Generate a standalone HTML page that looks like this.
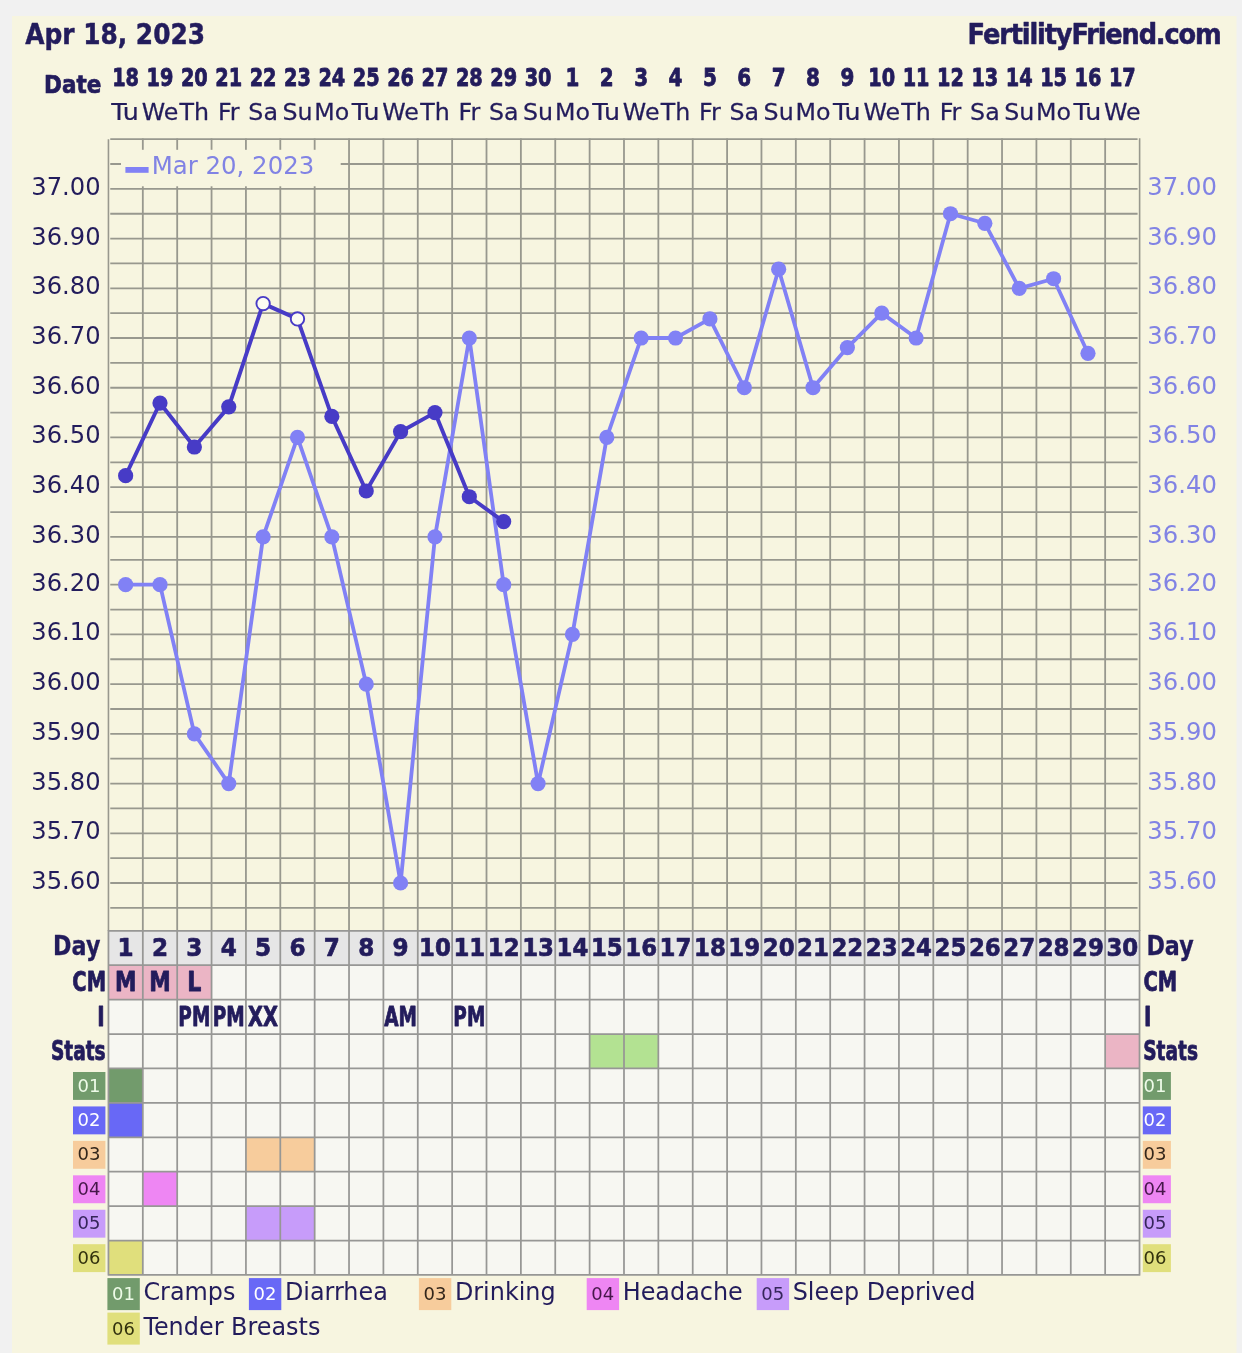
<!DOCTYPE html>
<html lang="en"><head><meta charset="utf-8"><title>FertilityFriend.com chart - Apr 18, 2023</title>
<style>
html,body{margin:0;padding:0;background:#f1f1f1;}
body{width:1242px;height:1353px;overflow:hidden;}
svg{display:block;}
text{font-family:"DejaVu Sans","Liberation Sans",sans-serif;}
.r{font-weight:400;}
.b{font-weight:700;}
</style></head>
<body>
<svg width="1242" height="1353" viewBox="0 0 1242 1353">
<defs><filter id="soft" x="-20" y="-20" width="1282" height="1393" filterUnits="userSpaceOnUse"><feGaussianBlur stdDeviation="0.38"/></filter></defs>
<rect x="0" y="0" width="1242" height="1353" fill="#f1f1f1"/>
<g filter="url(#soft)">
<rect x="-10" y="-10" width="1262" height="1373" fill="#f1f1f1"/>
<rect x="12" y="16" width="1224.5" height="1353" fill="#f7f5e0"/>
<path d="M110.25 139.15H1137.6M110.25 164.01H1137.6M110.25 188.87H1137.6M110.25 213.73H1137.6M110.25 238.58H1137.6M110.25 263.44H1137.6M110.25 288.30H1137.6M110.25 313.16H1137.6M110.25 338.02H1137.6M110.25 362.88H1137.6M110.25 387.74H1137.6M110.25 412.59H1137.6M110.25 437.45H1137.6M110.25 462.31H1137.6M110.25 487.17H1137.6M110.25 512.03H1137.6M110.25 536.89H1137.6M110.25 559.83H1137.6M110.25 584.69H1137.6M110.25 609.55H1137.6M110.25 634.41H1137.6M110.25 659.27H1137.6M110.25 684.13H1137.6M110.25 708.99H1137.6M110.25 733.84H1137.6M110.25 758.70H1137.6M110.25 783.56H1137.6M110.25 808.42H1137.6M110.25 833.28H1137.6M110.25 858.14H1137.6M110.25 883.00H1137.6M110.25 907.85H1137.6" stroke="#98988e" stroke-width="1.8" fill="none"/>
<path d="M142.82 138.55V930.90M177.19 138.55V930.90M211.56 138.55V930.90M245.93 138.55V930.90M280.30 138.55V930.90M314.66 138.55V930.90M349.03 138.55V930.90M383.40 138.55V930.90M417.77 138.55V930.90M452.14 138.55V930.90M486.51 138.55V930.90M520.88 138.55V930.90M555.25 138.55V930.90M589.62 138.55V930.90M623.99 138.55V930.90M658.35 138.55V930.90M692.72 138.55V930.90M727.09 138.55V930.90M761.46 138.55V930.90M795.83 138.55V930.90M830.20 138.55V930.90M864.57 138.55V930.90M898.94 138.55V930.90M933.31 138.55V930.90M967.68 138.55V930.90M1002.04 138.55V930.90M1036.41 138.55V930.90M1070.78 138.55V930.90M1105.15 138.55V930.90" stroke="#98988e" stroke-width="1.8" fill="none"/>
<path d="M108.45 139.15V930.9" stroke="#98988e" stroke-width="1.6" fill="none"/>
<path d="M1139.62 138.15V930.9" stroke="#98988e" stroke-width="1.6" fill="none"/>
<rect x="121" y="149.8" width="219.7" height="36.5" fill="#f7f5e0"/>
<rect x="125.4" y="167" width="23.2" height="5.8" fill="#8181f5"/>
<rect x="108.45" y="930.9" width="1031.07" height="34.30" fill="#e6e6e6"/>
<rect x="108.45" y="965.2" width="1031.07" height="309.78" fill="#f7f7f2"/>
<rect x="108.45" y="965.20" width="34.37" height="34.42" fill="#ebb5c5"/>
<rect x="142.82" y="965.20" width="34.37" height="34.42" fill="#ebb5c5"/>
<rect x="177.19" y="965.20" width="34.37" height="34.42" fill="#ebb5c5"/>
<rect x="589.62" y="1034.04" width="34.37" height="34.42" fill="#b3e292"/>
<rect x="623.99" y="1034.04" width="34.37" height="34.42" fill="#b3e292"/>
<rect x="1105.15" y="1034.04" width="34.37" height="34.42" fill="#ebb5c5"/>
<rect x="108.45" y="1068.46" width="34.37" height="34.42" fill="#729b6c"/>
<rect x="108.45" y="1102.88" width="34.37" height="34.42" fill="#6767f6"/>
<rect x="245.93" y="1137.30" width="34.37" height="34.42" fill="#f7cc9c"/>
<rect x="280.30" y="1137.30" width="34.37" height="34.42" fill="#f7cc9c"/>
<rect x="142.82" y="1171.72" width="34.37" height="34.42" fill="#ee86f3"/>
<rect x="245.93" y="1206.14" width="34.37" height="34.42" fill="#c79cfa"/>
<rect x="280.30" y="1206.14" width="34.37" height="34.42" fill="#c79cfa"/>
<rect x="108.45" y="1240.56" width="34.37" height="34.42" fill="#e0df7c"/>
<path d="M107.65 930.90H1140.32M107.65 965.20H1140.32M107.65 999.62H1140.32M107.65 1034.04H1140.32M107.65 1068.46H1140.32M107.65 1102.88H1140.32M107.65 1137.30H1140.32M107.65 1171.72H1140.32M107.65 1206.14H1140.32M107.65 1240.56H1140.32M107.65 1274.98H1140.32M108.45 930.90V1274.98M142.82 930.90V1274.98M177.19 930.90V1274.98M211.56 930.90V1274.98M245.93 930.90V1274.98M280.30 930.90V1274.98M314.66 930.90V1274.98M349.03 930.90V1274.98M383.40 930.90V1274.98M417.77 930.90V1274.98M452.14 930.90V1274.98M486.51 930.90V1274.98M520.88 930.90V1274.98M555.25 930.90V1274.98M589.62 930.90V1274.98M623.99 930.90V1274.98M658.35 930.90V1274.98M692.72 930.90V1274.98M727.09 930.90V1274.98M761.46 930.90V1274.98M795.83 930.90V1274.98M830.20 930.90V1274.98M864.57 930.90V1274.98M898.94 930.90V1274.98M933.31 930.90V1274.98M967.68 930.90V1274.98M1002.04 930.90V1274.98M1036.41 930.90V1274.98M1070.78 930.90V1274.98M1105.15 930.90V1274.98M1139.52 930.90V1274.98" stroke="#979795" stroke-width="1.75" fill="none"/>
<polyline points="125.63,584.69 160.00,584.69 194.37,733.84 228.74,783.56 263.11,536.89 297.48,437.45 331.85,536.89 366.22,684.13 400.59,883.00 434.96,536.89 469.32,338.02 503.69,584.69 538.06,783.56 572.43,634.41 606.80,437.45 641.17,338.02 675.54,338.02 709.91,318.90 744.28,387.74 778.65,269.18 813.01,387.74 847.38,347.58 881.75,313.16 916.12,338.02 950.49,213.73 984.86,223.29 1019.23,288.30 1053.60,278.74 1087.97,353.32" fill="none" stroke="#8181f5" stroke-width="3.8" stroke-linejoin="round"/>
<circle cx="125.63" cy="584.69" r="7.6" fill="#8181f5"/>
<circle cx="160.00" cy="584.69" r="7.6" fill="#8181f5"/>
<circle cx="194.37" cy="733.84" r="7.6" fill="#8181f5"/>
<circle cx="228.74" cy="783.56" r="7.6" fill="#8181f5"/>
<circle cx="263.11" cy="536.89" r="7.6" fill="#8181f5"/>
<circle cx="297.48" cy="437.45" r="7.6" fill="#8181f5"/>
<circle cx="331.85" cy="536.89" r="7.6" fill="#8181f5"/>
<circle cx="366.22" cy="684.13" r="7.6" fill="#8181f5"/>
<circle cx="400.59" cy="883.00" r="7.6" fill="#8181f5"/>
<circle cx="434.96" cy="536.89" r="7.6" fill="#8181f5"/>
<circle cx="469.32" cy="338.02" r="7.6" fill="#8181f5"/>
<circle cx="503.69" cy="584.69" r="7.6" fill="#8181f5"/>
<circle cx="538.06" cy="783.56" r="7.6" fill="#8181f5"/>
<circle cx="572.43" cy="634.41" r="7.6" fill="#8181f5"/>
<circle cx="606.80" cy="437.45" r="7.6" fill="#8181f5"/>
<circle cx="641.17" cy="338.02" r="7.6" fill="#8181f5"/>
<circle cx="675.54" cy="338.02" r="7.6" fill="#8181f5"/>
<circle cx="709.91" cy="318.90" r="7.6" fill="#8181f5"/>
<circle cx="744.28" cy="387.74" r="7.6" fill="#8181f5"/>
<circle cx="778.65" cy="269.18" r="7.6" fill="#8181f5"/>
<circle cx="813.01" cy="387.74" r="7.6" fill="#8181f5"/>
<circle cx="847.38" cy="347.58" r="7.6" fill="#8181f5"/>
<circle cx="881.75" cy="313.16" r="7.6" fill="#8181f5"/>
<circle cx="916.12" cy="338.02" r="7.6" fill="#8181f5"/>
<circle cx="950.49" cy="213.73" r="7.6" fill="#8181f5"/>
<circle cx="984.86" cy="223.29" r="7.6" fill="#8181f5"/>
<circle cx="1019.23" cy="288.30" r="7.6" fill="#8181f5"/>
<circle cx="1053.60" cy="278.74" r="7.6" fill="#8181f5"/>
<circle cx="1087.97" cy="353.32" r="7.6" fill="#8181f5"/>
<polyline points="125.63,475.70 160.00,403.03 194.37,447.01 228.74,406.86 263.11,303.60 297.48,318.90 331.85,416.42 366.22,490.99 400.59,431.72 434.96,412.59 469.32,496.73 503.69,521.59" fill="none" stroke="#473ac6" stroke-width="3.9" stroke-linejoin="round"/>
<circle cx="125.63" cy="475.70" r="7.6" fill="#473ac6"/>
<circle cx="160.00" cy="403.03" r="7.6" fill="#473ac6"/>
<circle cx="194.37" cy="447.01" r="7.6" fill="#473ac6"/>
<circle cx="228.74" cy="406.86" r="7.6" fill="#473ac6"/>
<circle cx="263.11" cy="303.60" r="6.7" fill="#fbfbf2" stroke="#473ac6" stroke-width="1.9"/>
<circle cx="297.48" cy="318.90" r="6.7" fill="#fbfbf2" stroke="#473ac6" stroke-width="1.9"/>
<circle cx="331.85" cy="416.42" r="7.6" fill="#473ac6"/>
<circle cx="366.22" cy="490.99" r="7.6" fill="#473ac6"/>
<circle cx="400.59" cy="431.72" r="7.6" fill="#473ac6"/>
<circle cx="434.96" cy="412.59" r="7.6" fill="#473ac6"/>
<circle cx="469.32" cy="496.73" r="7.6" fill="#473ac6"/>
<circle cx="503.69" cy="521.59" r="7.6" fill="#473ac6"/>
<text x="151.8" y="173.6" font-size="24.4" class="r" fill="#8183e4">Mar 20, 2023</text>
<text transform="translate(25.2 44.3) scale(0.858 1)" font-size="29" class="b" fill="#241c5c" stroke="#241c5c" stroke-width="0.5" stroke-linejoin="round">Apr 18, 2023</text>
<text transform="translate(1220.6 44.4) scale(0.885 1)" font-size="29" class="b" fill="#241c5c" text-anchor="end" letter-spacing="-1.3" stroke="#241c5c" stroke-width="0.6" stroke-linejoin="round">FertilityFriend.com</text>
<text transform="translate(101.3 93.1) scale(0.885 1)" font-size="24.3" class="b" fill="#241c5c" text-anchor="end" stroke="#241c5c" stroke-width="0.7" stroke-linejoin="round">Date</text>
<text transform="translate(125.63 86.0) scale(0.775 1)" font-size="24.9" class="b" fill="#241c5c" text-anchor="middle" stroke="#241c5c" stroke-width="0.9" stroke-linejoin="round">18</text>
<text transform="translate(125.03 119.6) scale(1.12 1)" font-size="22.6" class="r" fill="#241c5c" text-anchor="middle" stroke="#241c5c" stroke-width="0.25" stroke-linejoin="round">Tu</text>
<text transform="translate(160.00 86.0) scale(0.775 1)" font-size="24.9" class="b" fill="#241c5c" text-anchor="middle" stroke="#241c5c" stroke-width="0.9" stroke-linejoin="round">19</text>
<text transform="translate(160.00 119.6) scale(1.05 1)" font-size="22.6" class="r" fill="#241c5c" text-anchor="middle" stroke="#241c5c" stroke-width="0.25" stroke-linejoin="round">We</text>
<text transform="translate(194.37 86.0) scale(0.775 1)" font-size="24.9" class="b" fill="#241c5c" text-anchor="middle" stroke="#241c5c" stroke-width="0.9" stroke-linejoin="round">20</text>
<text transform="translate(194.37 119.6) scale(1.05 1)" font-size="22.6" class="r" fill="#241c5c" text-anchor="middle" stroke="#241c5c" stroke-width="0.25" stroke-linejoin="round">Th</text>
<text transform="translate(228.74 86.0) scale(0.775 1)" font-size="24.9" class="b" fill="#241c5c" text-anchor="middle" stroke="#241c5c" stroke-width="0.9" stroke-linejoin="round">21</text>
<text transform="translate(228.74 119.6) scale(1.05 1)" font-size="22.6" class="r" fill="#241c5c" text-anchor="middle" stroke="#241c5c" stroke-width="0.25" stroke-linejoin="round">Fr</text>
<text transform="translate(263.11 86.0) scale(0.775 1)" font-size="24.9" class="b" fill="#241c5c" text-anchor="middle" stroke="#241c5c" stroke-width="0.9" stroke-linejoin="round">22</text>
<text transform="translate(263.11 119.6) scale(1.05 1)" font-size="22.6" class="r" fill="#241c5c" text-anchor="middle" stroke="#241c5c" stroke-width="0.25" stroke-linejoin="round">Sa</text>
<text transform="translate(297.48 86.0) scale(0.775 1)" font-size="24.9" class="b" fill="#241c5c" text-anchor="middle" stroke="#241c5c" stroke-width="0.9" stroke-linejoin="round">23</text>
<text transform="translate(297.48 119.6) scale(1.05 1)" font-size="22.6" class="r" fill="#241c5c" text-anchor="middle" stroke="#241c5c" stroke-width="0.25" stroke-linejoin="round">Su</text>
<text transform="translate(331.85 86.0) scale(0.775 1)" font-size="24.9" class="b" fill="#241c5c" text-anchor="middle" stroke="#241c5c" stroke-width="0.9" stroke-linejoin="round">24</text>
<text transform="translate(331.85 119.6) scale(1.05 1)" font-size="22.6" class="r" fill="#241c5c" text-anchor="middle" stroke="#241c5c" stroke-width="0.25" stroke-linejoin="round">Mo</text>
<text transform="translate(366.22 86.0) scale(0.775 1)" font-size="24.9" class="b" fill="#241c5c" text-anchor="middle" stroke="#241c5c" stroke-width="0.9" stroke-linejoin="round">25</text>
<text transform="translate(365.62 119.6) scale(1.12 1)" font-size="22.6" class="r" fill="#241c5c" text-anchor="middle" stroke="#241c5c" stroke-width="0.25" stroke-linejoin="round">Tu</text>
<text transform="translate(400.59 86.0) scale(0.775 1)" font-size="24.9" class="b" fill="#241c5c" text-anchor="middle" stroke="#241c5c" stroke-width="0.9" stroke-linejoin="round">26</text>
<text transform="translate(400.59 119.6) scale(1.05 1)" font-size="22.6" class="r" fill="#241c5c" text-anchor="middle" stroke="#241c5c" stroke-width="0.25" stroke-linejoin="round">We</text>
<text transform="translate(434.96 86.0) scale(0.775 1)" font-size="24.9" class="b" fill="#241c5c" text-anchor="middle" stroke="#241c5c" stroke-width="0.9" stroke-linejoin="round">27</text>
<text transform="translate(434.96 119.6) scale(1.05 1)" font-size="22.6" class="r" fill="#241c5c" text-anchor="middle" stroke="#241c5c" stroke-width="0.25" stroke-linejoin="round">Th</text>
<text transform="translate(469.32 86.0) scale(0.775 1)" font-size="24.9" class="b" fill="#241c5c" text-anchor="middle" stroke="#241c5c" stroke-width="0.9" stroke-linejoin="round">28</text>
<text transform="translate(469.32 119.6) scale(1.05 1)" font-size="22.6" class="r" fill="#241c5c" text-anchor="middle" stroke="#241c5c" stroke-width="0.25" stroke-linejoin="round">Fr</text>
<text transform="translate(503.69 86.0) scale(0.775 1)" font-size="24.9" class="b" fill="#241c5c" text-anchor="middle" stroke="#241c5c" stroke-width="0.9" stroke-linejoin="round">29</text>
<text transform="translate(503.69 119.6) scale(1.05 1)" font-size="22.6" class="r" fill="#241c5c" text-anchor="middle" stroke="#241c5c" stroke-width="0.25" stroke-linejoin="round">Sa</text>
<text transform="translate(538.06 86.0) scale(0.775 1)" font-size="24.9" class="b" fill="#241c5c" text-anchor="middle" stroke="#241c5c" stroke-width="0.9" stroke-linejoin="round">30</text>
<text transform="translate(538.06 119.6) scale(1.05 1)" font-size="22.6" class="r" fill="#241c5c" text-anchor="middle" stroke="#241c5c" stroke-width="0.25" stroke-linejoin="round">Su</text>
<text transform="translate(572.43 86.0) scale(0.8 1)" font-size="24.9" class="b" fill="#241c5c" text-anchor="middle" stroke="#241c5c" stroke-width="0.9" stroke-linejoin="round">1</text>
<text transform="translate(572.43 119.6) scale(1.05 1)" font-size="22.6" class="r" fill="#241c5c" text-anchor="middle" stroke="#241c5c" stroke-width="0.25" stroke-linejoin="round">Mo</text>
<text transform="translate(606.80 86.0) scale(0.8 1)" font-size="24.9" class="b" fill="#241c5c" text-anchor="middle" stroke="#241c5c" stroke-width="0.9" stroke-linejoin="round">2</text>
<text transform="translate(606.20 119.6) scale(1.12 1)" font-size="22.6" class="r" fill="#241c5c" text-anchor="middle" stroke="#241c5c" stroke-width="0.25" stroke-linejoin="round">Tu</text>
<text transform="translate(641.17 86.0) scale(0.8 1)" font-size="24.9" class="b" fill="#241c5c" text-anchor="middle" stroke="#241c5c" stroke-width="0.9" stroke-linejoin="round">3</text>
<text transform="translate(641.17 119.6) scale(1.05 1)" font-size="22.6" class="r" fill="#241c5c" text-anchor="middle" stroke="#241c5c" stroke-width="0.25" stroke-linejoin="round">We</text>
<text transform="translate(675.54 86.0) scale(0.8 1)" font-size="24.9" class="b" fill="#241c5c" text-anchor="middle" stroke="#241c5c" stroke-width="0.9" stroke-linejoin="round">4</text>
<text transform="translate(675.54 119.6) scale(1.05 1)" font-size="22.6" class="r" fill="#241c5c" text-anchor="middle" stroke="#241c5c" stroke-width="0.25" stroke-linejoin="round">Th</text>
<text transform="translate(709.91 86.0) scale(0.8 1)" font-size="24.9" class="b" fill="#241c5c" text-anchor="middle" stroke="#241c5c" stroke-width="0.9" stroke-linejoin="round">5</text>
<text transform="translate(709.91 119.6) scale(1.05 1)" font-size="22.6" class="r" fill="#241c5c" text-anchor="middle" stroke="#241c5c" stroke-width="0.25" stroke-linejoin="round">Fr</text>
<text transform="translate(744.28 86.0) scale(0.8 1)" font-size="24.9" class="b" fill="#241c5c" text-anchor="middle" stroke="#241c5c" stroke-width="0.9" stroke-linejoin="round">6</text>
<text transform="translate(744.28 119.6) scale(1.05 1)" font-size="22.6" class="r" fill="#241c5c" text-anchor="middle" stroke="#241c5c" stroke-width="0.25" stroke-linejoin="round">Sa</text>
<text transform="translate(778.65 86.0) scale(0.8 1)" font-size="24.9" class="b" fill="#241c5c" text-anchor="middle" stroke="#241c5c" stroke-width="0.9" stroke-linejoin="round">7</text>
<text transform="translate(778.65 119.6) scale(1.05 1)" font-size="22.6" class="r" fill="#241c5c" text-anchor="middle" stroke="#241c5c" stroke-width="0.25" stroke-linejoin="round">Su</text>
<text transform="translate(813.01 86.0) scale(0.8 1)" font-size="24.9" class="b" fill="#241c5c" text-anchor="middle" stroke="#241c5c" stroke-width="0.9" stroke-linejoin="round">8</text>
<text transform="translate(813.01 119.6) scale(1.05 1)" font-size="22.6" class="r" fill="#241c5c" text-anchor="middle" stroke="#241c5c" stroke-width="0.25" stroke-linejoin="round">Mo</text>
<text transform="translate(847.38 86.0) scale(0.8 1)" font-size="24.9" class="b" fill="#241c5c" text-anchor="middle" stroke="#241c5c" stroke-width="0.9" stroke-linejoin="round">9</text>
<text transform="translate(846.78 119.6) scale(1.12 1)" font-size="22.6" class="r" fill="#241c5c" text-anchor="middle" stroke="#241c5c" stroke-width="0.25" stroke-linejoin="round">Tu</text>
<text transform="translate(881.75 86.0) scale(0.775 1)" font-size="24.9" class="b" fill="#241c5c" text-anchor="middle" stroke="#241c5c" stroke-width="0.9" stroke-linejoin="round">10</text>
<text transform="translate(881.75 119.6) scale(1.05 1)" font-size="22.6" class="r" fill="#241c5c" text-anchor="middle" stroke="#241c5c" stroke-width="0.25" stroke-linejoin="round">We</text>
<text transform="translate(916.12 86.0) scale(0.775 1)" font-size="24.9" class="b" fill="#241c5c" text-anchor="middle" stroke="#241c5c" stroke-width="0.9" stroke-linejoin="round">11</text>
<text transform="translate(916.12 119.6) scale(1.05 1)" font-size="22.6" class="r" fill="#241c5c" text-anchor="middle" stroke="#241c5c" stroke-width="0.25" stroke-linejoin="round">Th</text>
<text transform="translate(950.49 86.0) scale(0.775 1)" font-size="24.9" class="b" fill="#241c5c" text-anchor="middle" stroke="#241c5c" stroke-width="0.9" stroke-linejoin="round">12</text>
<text transform="translate(950.49 119.6) scale(1.05 1)" font-size="22.6" class="r" fill="#241c5c" text-anchor="middle" stroke="#241c5c" stroke-width="0.25" stroke-linejoin="round">Fr</text>
<text transform="translate(984.86 86.0) scale(0.775 1)" font-size="24.9" class="b" fill="#241c5c" text-anchor="middle" stroke="#241c5c" stroke-width="0.9" stroke-linejoin="round">13</text>
<text transform="translate(984.86 119.6) scale(1.05 1)" font-size="22.6" class="r" fill="#241c5c" text-anchor="middle" stroke="#241c5c" stroke-width="0.25" stroke-linejoin="round">Sa</text>
<text transform="translate(1019.23 86.0) scale(0.775 1)" font-size="24.9" class="b" fill="#241c5c" text-anchor="middle" stroke="#241c5c" stroke-width="0.9" stroke-linejoin="round">14</text>
<text transform="translate(1019.23 119.6) scale(1.05 1)" font-size="22.6" class="r" fill="#241c5c" text-anchor="middle" stroke="#241c5c" stroke-width="0.25" stroke-linejoin="round">Su</text>
<text transform="translate(1053.60 86.0) scale(0.775 1)" font-size="24.9" class="b" fill="#241c5c" text-anchor="middle" stroke="#241c5c" stroke-width="0.9" stroke-linejoin="round">15</text>
<text transform="translate(1053.60 119.6) scale(1.05 1)" font-size="22.6" class="r" fill="#241c5c" text-anchor="middle" stroke="#241c5c" stroke-width="0.25" stroke-linejoin="round">Mo</text>
<text transform="translate(1087.97 86.0) scale(0.775 1)" font-size="24.9" class="b" fill="#241c5c" text-anchor="middle" stroke="#241c5c" stroke-width="0.9" stroke-linejoin="round">16</text>
<text transform="translate(1087.37 119.6) scale(1.12 1)" font-size="22.6" class="r" fill="#241c5c" text-anchor="middle" stroke="#241c5c" stroke-width="0.25" stroke-linejoin="round">Tu</text>
<text transform="translate(1122.34 86.0) scale(0.775 1)" font-size="24.9" class="b" fill="#241c5c" text-anchor="middle" stroke="#241c5c" stroke-width="0.9" stroke-linejoin="round">17</text>
<text transform="translate(1122.34 119.6) scale(1.05 1)" font-size="22.6" class="r" fill="#241c5c" text-anchor="middle" stroke="#241c5c" stroke-width="0.25" stroke-linejoin="round">We</text>
<text x="100.6" y="194.87" font-size="24.2" class="r" fill="#241c5c" text-anchor="end">37.00</text>
<text x="1147.3" y="194.87" font-size="24.3" class="r" fill="#8183e4">37.00</text>
<text x="100.6" y="244.58" font-size="24.2" class="r" fill="#241c5c" text-anchor="end">36.90</text>
<text x="1147.3" y="244.58" font-size="24.3" class="r" fill="#8183e4">36.90</text>
<text x="100.6" y="294.30" font-size="24.2" class="r" fill="#241c5c" text-anchor="end">36.80</text>
<text x="1147.3" y="294.30" font-size="24.3" class="r" fill="#8183e4">36.80</text>
<text x="100.6" y="344.02" font-size="24.2" class="r" fill="#241c5c" text-anchor="end">36.70</text>
<text x="1147.3" y="344.02" font-size="24.3" class="r" fill="#8183e4">36.70</text>
<text x="100.6" y="393.74" font-size="24.2" class="r" fill="#241c5c" text-anchor="end">36.60</text>
<text x="1147.3" y="393.74" font-size="24.3" class="r" fill="#8183e4">36.60</text>
<text x="100.6" y="443.45" font-size="24.2" class="r" fill="#241c5c" text-anchor="end">36.50</text>
<text x="1147.3" y="443.45" font-size="24.3" class="r" fill="#8183e4">36.50</text>
<text x="100.6" y="493.17" font-size="24.2" class="r" fill="#241c5c" text-anchor="end">36.40</text>
<text x="1147.3" y="493.17" font-size="24.3" class="r" fill="#8183e4">36.40</text>
<text x="100.6" y="542.89" font-size="24.2" class="r" fill="#241c5c" text-anchor="end">36.30</text>
<text x="1147.3" y="542.89" font-size="24.3" class="r" fill="#8183e4">36.30</text>
<text x="100.6" y="590.69" font-size="24.2" class="r" fill="#241c5c" text-anchor="end">36.20</text>
<text x="1147.3" y="590.69" font-size="24.3" class="r" fill="#8183e4">36.20</text>
<text x="100.6" y="640.41" font-size="24.2" class="r" fill="#241c5c" text-anchor="end">36.10</text>
<text x="1147.3" y="640.41" font-size="24.3" class="r" fill="#8183e4">36.10</text>
<text x="100.6" y="690.13" font-size="24.2" class="r" fill="#241c5c" text-anchor="end">36.00</text>
<text x="1147.3" y="690.13" font-size="24.3" class="r" fill="#8183e4">36.00</text>
<text x="100.6" y="739.84" font-size="24.2" class="r" fill="#241c5c" text-anchor="end">35.90</text>
<text x="1147.3" y="739.84" font-size="24.3" class="r" fill="#8183e4">35.90</text>
<text x="100.6" y="789.56" font-size="24.2" class="r" fill="#241c5c" text-anchor="end">35.80</text>
<text x="1147.3" y="789.56" font-size="24.3" class="r" fill="#8183e4">35.80</text>
<text x="100.6" y="839.28" font-size="24.2" class="r" fill="#241c5c" text-anchor="end">35.70</text>
<text x="1147.3" y="839.28" font-size="24.3" class="r" fill="#8183e4">35.70</text>
<text x="100.6" y="889.00" font-size="24.2" class="r" fill="#241c5c" text-anchor="end">35.60</text>
<text x="1147.3" y="889.00" font-size="24.3" class="r" fill="#8183e4">35.60</text>
<text transform="translate(125.63 955.6) scale(0.94 1)" font-size="24.6" class="b" fill="#241c5c" text-anchor="middle" stroke="#241c5c" stroke-width="0.7" stroke-linejoin="round">1</text>
<text transform="translate(160.00 955.6) scale(0.94 1)" font-size="24.6" class="b" fill="#241c5c" text-anchor="middle" stroke="#241c5c" stroke-width="0.7" stroke-linejoin="round">2</text>
<text transform="translate(194.37 955.6) scale(0.94 1)" font-size="24.6" class="b" fill="#241c5c" text-anchor="middle" stroke="#241c5c" stroke-width="0.7" stroke-linejoin="round">3</text>
<text transform="translate(228.74 955.6) scale(0.94 1)" font-size="24.6" class="b" fill="#241c5c" text-anchor="middle" stroke="#241c5c" stroke-width="0.7" stroke-linejoin="round">4</text>
<text transform="translate(263.11 955.6) scale(0.94 1)" font-size="24.6" class="b" fill="#241c5c" text-anchor="middle" stroke="#241c5c" stroke-width="0.7" stroke-linejoin="round">5</text>
<text transform="translate(297.48 955.6) scale(0.94 1)" font-size="24.6" class="b" fill="#241c5c" text-anchor="middle" stroke="#241c5c" stroke-width="0.7" stroke-linejoin="round">6</text>
<text transform="translate(331.85 955.6) scale(0.94 1)" font-size="24.6" class="b" fill="#241c5c" text-anchor="middle" stroke="#241c5c" stroke-width="0.7" stroke-linejoin="round">7</text>
<text transform="translate(366.22 955.6) scale(0.94 1)" font-size="24.6" class="b" fill="#241c5c" text-anchor="middle" stroke="#241c5c" stroke-width="0.7" stroke-linejoin="round">8</text>
<text transform="translate(400.59 955.6) scale(0.94 1)" font-size="24.6" class="b" fill="#241c5c" text-anchor="middle" stroke="#241c5c" stroke-width="0.7" stroke-linejoin="round">9</text>
<text transform="translate(434.96 955.6) scale(0.93 1)" font-size="24.6" class="b" fill="#241c5c" text-anchor="middle" stroke="#241c5c" stroke-width="0.7" stroke-linejoin="round">10</text>
<text transform="translate(469.32 955.6) scale(0.93 1)" font-size="24.6" class="b" fill="#241c5c" text-anchor="middle" stroke="#241c5c" stroke-width="0.7" stroke-linejoin="round">11</text>
<text transform="translate(503.69 955.6) scale(0.93 1)" font-size="24.6" class="b" fill="#241c5c" text-anchor="middle" stroke="#241c5c" stroke-width="0.7" stroke-linejoin="round">12</text>
<text transform="translate(538.06 955.6) scale(0.93 1)" font-size="24.6" class="b" fill="#241c5c" text-anchor="middle" stroke="#241c5c" stroke-width="0.7" stroke-linejoin="round">13</text>
<text transform="translate(572.43 955.6) scale(0.93 1)" font-size="24.6" class="b" fill="#241c5c" text-anchor="middle" stroke="#241c5c" stroke-width="0.7" stroke-linejoin="round">14</text>
<text transform="translate(606.80 955.6) scale(0.93 1)" font-size="24.6" class="b" fill="#241c5c" text-anchor="middle" stroke="#241c5c" stroke-width="0.7" stroke-linejoin="round">15</text>
<text transform="translate(641.17 955.6) scale(0.93 1)" font-size="24.6" class="b" fill="#241c5c" text-anchor="middle" stroke="#241c5c" stroke-width="0.7" stroke-linejoin="round">16</text>
<text transform="translate(675.54 955.6) scale(0.93 1)" font-size="24.6" class="b" fill="#241c5c" text-anchor="middle" stroke="#241c5c" stroke-width="0.7" stroke-linejoin="round">17</text>
<text transform="translate(709.91 955.6) scale(0.93 1)" font-size="24.6" class="b" fill="#241c5c" text-anchor="middle" stroke="#241c5c" stroke-width="0.7" stroke-linejoin="round">18</text>
<text transform="translate(744.28 955.6) scale(0.93 1)" font-size="24.6" class="b" fill="#241c5c" text-anchor="middle" stroke="#241c5c" stroke-width="0.7" stroke-linejoin="round">19</text>
<text transform="translate(778.65 955.6) scale(0.93 1)" font-size="24.6" class="b" fill="#241c5c" text-anchor="middle" stroke="#241c5c" stroke-width="0.7" stroke-linejoin="round">20</text>
<text transform="translate(813.01 955.6) scale(0.93 1)" font-size="24.6" class="b" fill="#241c5c" text-anchor="middle" stroke="#241c5c" stroke-width="0.7" stroke-linejoin="round">21</text>
<text transform="translate(847.38 955.6) scale(0.93 1)" font-size="24.6" class="b" fill="#241c5c" text-anchor="middle" stroke="#241c5c" stroke-width="0.7" stroke-linejoin="round">22</text>
<text transform="translate(881.75 955.6) scale(0.93 1)" font-size="24.6" class="b" fill="#241c5c" text-anchor="middle" stroke="#241c5c" stroke-width="0.7" stroke-linejoin="round">23</text>
<text transform="translate(916.12 955.6) scale(0.93 1)" font-size="24.6" class="b" fill="#241c5c" text-anchor="middle" stroke="#241c5c" stroke-width="0.7" stroke-linejoin="round">24</text>
<text transform="translate(950.49 955.6) scale(0.93 1)" font-size="24.6" class="b" fill="#241c5c" text-anchor="middle" stroke="#241c5c" stroke-width="0.7" stroke-linejoin="round">25</text>
<text transform="translate(984.86 955.6) scale(0.93 1)" font-size="24.6" class="b" fill="#241c5c" text-anchor="middle" stroke="#241c5c" stroke-width="0.7" stroke-linejoin="round">26</text>
<text transform="translate(1019.23 955.6) scale(0.93 1)" font-size="24.6" class="b" fill="#241c5c" text-anchor="middle" stroke="#241c5c" stroke-width="0.7" stroke-linejoin="round">27</text>
<text transform="translate(1053.60 955.6) scale(0.93 1)" font-size="24.6" class="b" fill="#241c5c" text-anchor="middle" stroke="#241c5c" stroke-width="0.7" stroke-linejoin="round">28</text>
<text transform="translate(1087.97 955.6) scale(0.93 1)" font-size="24.6" class="b" fill="#241c5c" text-anchor="middle" stroke="#241c5c" stroke-width="0.7" stroke-linejoin="round">29</text>
<text transform="translate(1122.34 955.6) scale(0.93 1)" font-size="24.6" class="b" fill="#241c5c" text-anchor="middle" stroke="#241c5c" stroke-width="0.7" stroke-linejoin="round">30</text>
<text transform="translate(100.4 954.6) scale(0.846 1)" font-size="26.3" class="b" fill="#241c5c" text-anchor="end" stroke="#241c5c" stroke-width="0.3" stroke-linejoin="round">Day</text>
<text transform="translate(106.0 991.1) scale(0.74 1)" font-size="26.3" class="b" fill="#241c5c" text-anchor="end" stroke="#241c5c" stroke-width="0.85" stroke-linejoin="round">CM</text>
<text transform="translate(104.6 1025.6) scale(0.76 1)" font-size="26.3" class="b" fill="#241c5c" text-anchor="end" stroke="#241c5c" stroke-width="0.85" stroke-linejoin="round">I</text>
<text transform="translate(105.7 1059.9) scale(0.708 1)" font-size="26.3" class="b" fill="#241c5c" text-anchor="end" stroke="#241c5c" stroke-width="0.85" stroke-linejoin="round">Stats</text>
<text transform="translate(1146.4 954.6) scale(0.846 1)" font-size="26.3" class="b" fill="#241c5c" stroke="#241c5c" stroke-width="0.3" stroke-linejoin="round">Day</text>
<text transform="translate(1143.4 991.1) scale(0.74 1)" font-size="26.3" class="b" fill="#241c5c" stroke="#241c5c" stroke-width="0.85" stroke-linejoin="round">CM</text>
<text transform="translate(1144.0 1025.6) scale(0.76 1)" font-size="26.3" class="b" fill="#241c5c" stroke="#241c5c" stroke-width="0.85" stroke-linejoin="round">I</text>
<text transform="translate(1143.2 1059.9) scale(0.708 1)" font-size="26.3" class="b" fill="#241c5c" stroke="#241c5c" stroke-width="0.85" stroke-linejoin="round">Stats</text>
<text transform="translate(125.63 991.1) scale(0.82 1)" font-size="26.3" class="b" fill="#241c5c" text-anchor="middle" stroke="#241c5c" stroke-width="0.85" stroke-linejoin="round">M</text>
<text transform="translate(160.00 991.1) scale(0.82 1)" font-size="26.3" class="b" fill="#241c5c" text-anchor="middle" stroke="#241c5c" stroke-width="0.85" stroke-linejoin="round">M</text>
<text transform="translate(194.37 991.1) scale(0.84 1)" font-size="26.3" class="b" fill="#241c5c" text-anchor="middle" stroke="#241c5c" stroke-width="0.85" stroke-linejoin="round">L</text>
<text transform="translate(194.37 1025.6) scale(0.705 1)" font-size="26.3" class="b" fill="#241c5c" text-anchor="middle" stroke="#241c5c" stroke-width="0.85" stroke-linejoin="round">PM</text>
<text transform="translate(228.74 1025.6) scale(0.705 1)" font-size="26.3" class="b" fill="#241c5c" text-anchor="middle" stroke="#241c5c" stroke-width="0.85" stroke-linejoin="round">PM</text>
<text transform="translate(263.11 1025.6) scale(0.74 1)" font-size="26.3" class="b" fill="#241c5c" text-anchor="middle" stroke="#241c5c" stroke-width="0.85" stroke-linejoin="round">XX</text>
<text transform="translate(400.59 1025.6) scale(0.705 1)" font-size="26.3" class="b" fill="#241c5c" text-anchor="middle" stroke="#241c5c" stroke-width="0.85" stroke-linejoin="round">AM</text>
<text transform="translate(469.32 1025.6) scale(0.705 1)" font-size="26.3" class="b" fill="#241c5c" text-anchor="middle" stroke="#241c5c" stroke-width="0.85" stroke-linejoin="round">PM</text>
<rect x="73.0" y="1072.00" width="32.4" height="27.9" fill="#729b6c"/>
<text x="89.00" y="1091.60" font-size="18" class="r" fill="#eefbe8" text-anchor="middle">01</text>
<rect x="1142.8" y="1072.00" width="28.1" height="27.9" fill="#729b6c"/>
<text x="1154.90" y="1091.60" font-size="18" class="r" fill="#eefbe8" text-anchor="middle">01</text>
<rect x="73.0" y="1106.44" width="32.4" height="27.9" fill="#6767f6"/>
<text x="89.00" y="1126.04" font-size="18" class="r" fill="#ffffff" text-anchor="middle">02</text>
<rect x="1142.8" y="1106.44" width="28.1" height="27.9" fill="#6767f6"/>
<text x="1154.90" y="1126.04" font-size="18" class="r" fill="#ffffff" text-anchor="middle">02</text>
<rect x="73.0" y="1140.88" width="32.4" height="27.9" fill="#f7cc9c"/>
<text x="89.00" y="1160.48" font-size="18" class="r" fill="#33261a" text-anchor="middle">03</text>
<rect x="1142.8" y="1140.88" width="28.1" height="27.9" fill="#f7cc9c"/>
<text x="1154.90" y="1160.48" font-size="18" class="r" fill="#33261a" text-anchor="middle">03</text>
<rect x="73.0" y="1175.32" width="32.4" height="27.9" fill="#ee86f3"/>
<text x="89.00" y="1194.92" font-size="18" class="r" fill="#47194b" text-anchor="middle">04</text>
<rect x="1142.8" y="1175.32" width="28.1" height="27.9" fill="#ee86f3"/>
<text x="1154.90" y="1194.92" font-size="18" class="r" fill="#47194b" text-anchor="middle">04</text>
<rect x="73.0" y="1209.76" width="32.4" height="27.9" fill="#c79cfa"/>
<text x="89.00" y="1229.36" font-size="18" class="r" fill="#35265a" text-anchor="middle">05</text>
<rect x="1142.8" y="1209.76" width="28.1" height="27.9" fill="#c79cfa"/>
<text x="1154.90" y="1229.36" font-size="18" class="r" fill="#35265a" text-anchor="middle">05</text>
<rect x="73.0" y="1244.20" width="32.4" height="27.9" fill="#e0df7c"/>
<text x="89.00" y="1263.80" font-size="18" class="r" fill="#33320f" text-anchor="middle">06</text>
<rect x="1142.8" y="1244.20" width="28.1" height="27.9" fill="#e0df7c"/>
<text x="1154.90" y="1263.80" font-size="18" class="r" fill="#33320f" text-anchor="middle">06</text>
<rect x="107.4" y="1278.1" width="32.4" height="32" fill="#729b6c"/>
<text x="123.40" y="1300.30" font-size="18" class="r" fill="#eefbe8" text-anchor="middle">01</text>
<text x="143.40" y="1299.60" font-size="23.9" class="r" fill="#241c5c">Cramps</text>
<rect x="248.9" y="1278.1" width="32.4" height="32" fill="#6767f6"/>
<text x="264.90" y="1300.30" font-size="18" class="r" fill="#ffffff" text-anchor="middle">02</text>
<text x="284.90" y="1299.60" font-size="23.9" class="r" fill="#241c5c">Diarrhea</text>
<rect x="418.9" y="1278.1" width="32.4" height="32" fill="#f7cc9c"/>
<text x="434.90" y="1300.30" font-size="18" class="r" fill="#33261a" text-anchor="middle">03</text>
<text x="454.90" y="1299.60" font-size="23.9" class="r" fill="#241c5c">Drinking</text>
<rect x="586.7" y="1278.1" width="32.4" height="32" fill="#ee86f3"/>
<text x="602.70" y="1300.30" font-size="18" class="r" fill="#47194b" text-anchor="middle">04</text>
<text x="622.70" y="1299.60" font-size="23.9" class="r" fill="#241c5c">Headache</text>
<rect x="756.7" y="1278.1" width="32.4" height="32" fill="#c79cfa"/>
<text x="772.70" y="1300.30" font-size="18" class="r" fill="#35265a" text-anchor="middle">05</text>
<text x="792.70" y="1299.60" font-size="23.9" class="r" fill="#241c5c">Sleep Deprived</text>
<rect x="107.4" y="1312.6" width="32.4" height="32" fill="#e0df7c"/>
<text x="123.40" y="1334.80" font-size="18" class="r" fill="#33320f" text-anchor="middle">06</text>
<text x="143.40" y="1335.00" font-size="23.9" class="r" fill="#241c5c">Tender Breasts</text>
</g>
</svg>
</body></html>
